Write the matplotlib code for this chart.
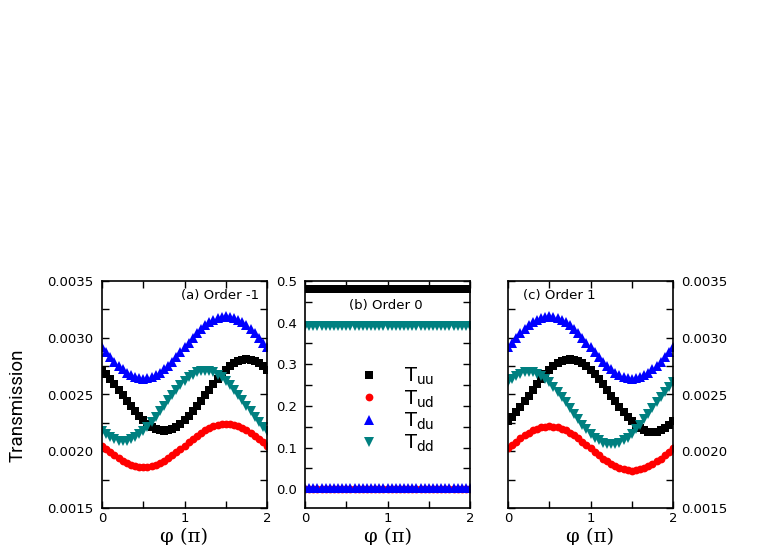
import numpy as np
import matplotlib
matplotlib.use("Agg")
import matplotlib.pyplot as plt
from matplotlib.ticker import MultipleLocator

# -------- DATA --------
phi = np.linspace(0, 2, 41)  # phi in units of pi

# order -1, values in units of 1e-4
tuu_m1 = [27.18, 26.80, 26.38, 25.92, 25.44, 24.95, 24.46, 23.98, 23.52, 23.10,
          22.72, 22.40, 22.14, 21.95, 21.84, 21.80, 21.84, 21.95, 22.14, 22.40,
          22.72, 23.10, 23.52, 23.98, 24.46, 24.95, 25.44, 25.92, 26.38, 26.80,
          27.18, 27.50, 27.76, 27.95, 28.06, 28.10, 28.06, 27.95, 27.76, 27.50, 27.18]
tud_m1 = [20.50, 20.20, 19.91, 19.64, 19.38, 19.16, 18.96, 18.81, 18.69, 18.62,
          18.60, 18.62, 18.69, 18.81, 18.96, 19.16, 19.38, 19.64, 19.91, 20.20,
          20.50, 20.80, 21.09, 21.36, 21.62, 21.84, 22.04, 22.19, 22.31, 22.38,
          22.40, 22.38, 22.31, 22.19, 22.04, 21.84, 21.62, 21.36, 21.09, 20.80, 20.50]
tdu_m1 = [29.15, 28.72, 28.30, 27.90, 27.53, 27.21, 26.93, 26.70, 26.53, 26.43,
          26.40, 26.43, 26.53, 26.70, 26.93, 27.21, 27.53, 27.90, 28.30, 28.72,
          29.15, 29.58, 30.00, 30.40, 30.77, 31.09, 31.37, 31.60, 31.77, 31.87,
          31.90, 31.87, 31.77, 31.60, 31.37, 31.09, 30.77, 30.40, 30.00, 29.58, 29.15]
tdd_m1 = [21.81, 21.49, 21.24, 21.05, 20.94, 20.90, 20.94, 21.05, 21.24, 21.49,
          21.81, 22.18, 22.59, 23.04, 23.52, 24.00, 24.48, 24.96, 25.41, 25.82,
          26.19, 26.51, 26.76, 26.95, 27.06, 27.10, 27.06, 26.95, 26.76, 26.51,
          26.19, 25.82, 25.41, 24.96, 24.48, 24.00, 23.52, 23.04, 22.59, 22.18, 21.81]

# order 0
tuu_0 = 0.480
tud_0 = 0.000
tdu_0 = 0.003
tdd_0 = 0.392

# order 1, values in units of 1e-4
tuu_p1 = [22.64, 23.02, 23.45, 23.91, 24.40, 24.90, 25.40, 25.89, 26.35, 26.78,
          27.16, 27.49, 27.75, 27.94, 28.06, 28.10, 28.06, 27.94, 27.75, 27.49,
          27.16, 26.78, 26.35, 25.89, 25.40, 24.90, 24.40, 23.91, 23.45, 23.02,
          22.64, 22.31, 22.05, 21.86, 21.74, 21.70, 21.74, 21.86, 22.05, 22.31, 22.64]
tud_p1 = [20.25, 20.55, 20.85, 21.14, 21.40, 21.63, 21.83, 21.99, 22.10, 22.18,
          22.20, 22.18, 22.10, 21.99, 21.83, 21.63, 21.40, 21.14, 20.85, 20.55,
          20.25, 19.95, 19.65, 19.36, 19.10, 18.87, 18.67, 18.51, 18.40, 18.32,
          18.30, 18.32, 18.40, 18.51, 18.67, 18.87, 19.10, 19.36, 19.65, 19.95, 20.25]
tdu_p1 = [29.15, 29.58, 30.00, 30.40, 30.77, 31.09, 31.37, 31.60, 31.77, 31.87,
          31.90, 31.87, 31.77, 31.60, 31.37, 31.09, 30.77, 30.40, 30.00, 29.58,
          29.15, 28.72, 28.30, 27.90, 27.53, 27.21, 26.93, 26.70, 26.53, 26.43,
          26.40, 26.43, 26.53, 26.70, 26.93, 27.21, 27.53, 27.90, 28.30, 28.72, 29.15]
tdd_p1 = [26.06, 26.39, 26.65, 26.84, 26.96, 27.00, 26.96, 26.84, 26.65, 26.39,
          26.06, 25.68, 25.25, 24.79, 24.30, 23.80, 23.30, 22.81, 22.35, 21.92,
          21.54, 21.21, 20.95, 20.76, 20.64, 20.60, 20.64, 20.76, 20.95, 21.21,
          21.54, 21.92, 22.35, 22.81, 23.30, 23.80, 24.30, 24.79, 25.25, 25.68, 26.06]

labels = [r"T$_{\rm uu}$", r"T$_{\rm ud}$", r"T$_{\rm du}$", r"T$_{\rm dd}$"]
colors = ["black", "#ff0000", "#0000ff", "#008080"]
markers = ["s", "o", "^", "v"]
msizes = [5.2, 5.6, 6.6, 6.6]

# -------- FIGURE --------
fig = plt.figure(figsize=(7.63, 5.45), dpi=100)
w, h = 165 / 763, 227 / 545
bot = 1 - 508 / 545
ax_a = fig.add_axes([102 / 763, bot, w, h])
ax_b = fig.add_axes([305 / 763, bot, w, h])
ax_c = fig.add_axes([508 / 763, bot, w, h])


def style(ax):
    ax.set_xlim(0, 2)
    ax.xaxis.set_major_locator(MultipleLocator(1))
    ax.xaxis.set_minor_locator(MultipleLocator(0.5))
    ax.tick_params(which="both", direction="in", top=True, right=True,
                   labelsize=9.5, width=1.0, length=5)
    ax.tick_params(axis="x", pad=3)
    ax.tick_params(axis="y", pad=6)
    for sp in ax.spines.values():
        sp.set_linewidth(1.2)
    ax.set_xlabel("\u03c6 (\u03c0)", fontsize=14, family="DejaVu Serif",
                  va="center")
    ax.xaxis.set_label_coords(0.5, -0.125)


def side_panel(ax, series, title, tx, ha):
    for vals, c, m, ms in zip(series, colors, markers, msizes):
        ax.plot(phi, np.array(vals) * 1e-4, linestyle="none", marker=m,
                color=c, markersize=ms, markeredgewidth=0)
    ax.set_ylim(0.0015, 0.0035)
    ax.yaxis.set_major_locator(MultipleLocator(0.0005))
    ax.yaxis.set_minor_locator(MultipleLocator(0.00025))
    ax.yaxis.set_major_formatter(plt.FormatStrFormatter("%.4f"))
    ax.text(tx, 0.935, title, transform=ax.transAxes, ha=ha, va="center",
            fontsize=9.5)
    style(ax)


side_panel(ax_a, [tuu_m1, tud_m1, tdu_m1, tdd_m1], "(a) Order -1", 0.95, "right")
side_panel(ax_c, [tuu_p1, tud_p1, tdu_p1, tdd_p1], "(c) Order 1", 0.09, "left")
ax_c.tick_params(axis="y", labelleft=False, labelright=True)

# middle panel
for val, c, m, ms, lab in zip([tuu_0, tud_0, tdu_0, tdd_0], colors, markers,
                              msizes, labels):
    ax_b.plot(phi, np.full(len(phi), val), linestyle="none", marker=m, color=c,
              markersize=ms, markeredgewidth=0, label=lab)
ax_b.set_ylim(-0.045, 0.5)
ax_b.yaxis.set_major_locator(MultipleLocator(0.1))
ax_b.yaxis.set_minor_locator(MultipleLocator(0.05))
ax_b.yaxis.set_major_formatter(plt.FormatStrFormatter("%.1f"))
ax_b.text(0.49, 0.89, "(b) Order 0", transform=ax_b.transAxes, ha="center",
          va="center", fontsize=9.5)
style(ax_b)
ax_b.legend(loc="upper left", bbox_to_anchor=(0.28, 0.66), frameon=False,
            fontsize=14, handlelength=1.0, handletextpad=1.3,
            labelspacing=0.05, borderaxespad=0)

fig.text(18 / 763, 1 - 405 / 545, "Transmission", rotation=90, ha="center",
         va="center", fontsize=13.5, family=["Roboto", "DejaVu Sans"])

fig.savefig("out.png", dpi=100)
